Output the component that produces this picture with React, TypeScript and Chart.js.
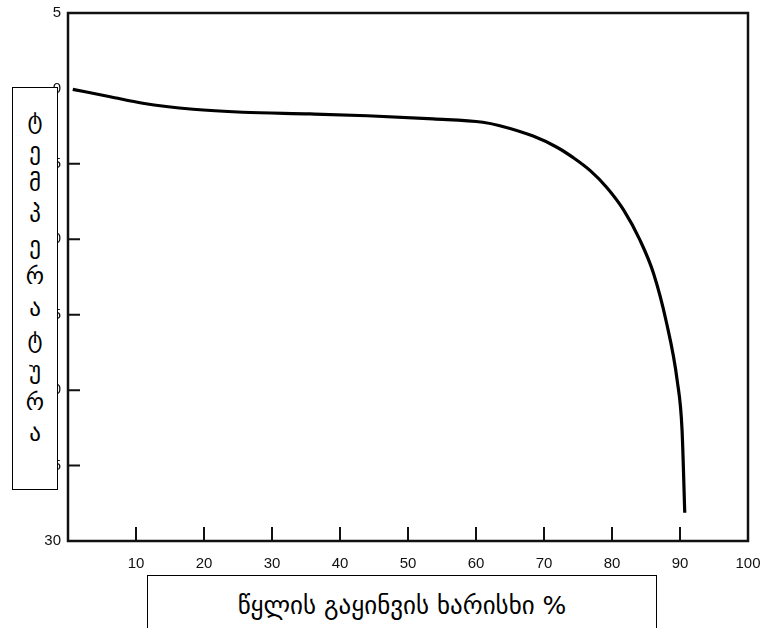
import React, { useEffect, useRef } from "react";
import { Chart, registerables } from "chart.js";

Chart.register(...registerables);

// Water frozen percentage (x) and temperature (y, °C)
const waterFrozenPct = [0.7, 6.2, 11.0, 18.4, 25.7, 35.6, 44.0, 53.7, 61.0, 63.5, 68.4, 71.9, 74.3, 76.8, 79.2, 81.7, 84.1, 86.1, 88.0, 89.6, 90.3, 90.7];
const temperature = [-0.06, -0.55, -0.98, -1.38, -1.58, -1.69, -1.81, -2.02, -2.24, -2.47, -3.16, -3.90, -4.59, -5.45, -6.55, -8.05, -10.04, -12.25, -15.5, -19.4, -22.63, -28.13];

const xTickValues = [10, 20, 30, 40, 50, 60, 70, 80, 90, 100];
const xTickMarks = [10, 20, 30, 40, 50, 60, 70, 80, 90];
const yTickValues = [5, 0, -5, -10, -15, -20, -25, -30];
const yTickMarks = [-5, -10, -15, -20, -25];

const yTitle = "ტემპერატურა";
const xTitle = "წყლის გაყინვის ხარისხი %";

const framePlugin = {
  id: "framePlugin",
  afterDatasetsDraw(chart: any) {
    const { ctx, chartArea, scales } = chart;
    ctx.save();
    ctx.strokeStyle = "#111";
    ctx.lineWidth = 2.5;
    ctx.strokeRect(chartArea.left, chartArea.top, chartArea.right - chartArea.left, chartArea.bottom - chartArea.top);
    ctx.lineWidth = 2;
    ctx.beginPath();
    for (const v of xTickMarks) {
      const px = scales.x.getPixelForValue(v);
      ctx.moveTo(px, chartArea.bottom);
      ctx.lineTo(px, chartArea.bottom - 14);
    }
    for (const v of yTickMarks) {
      const py = scales.y.getPixelForValue(v);
      ctx.moveTo(chartArea.left, py);
      ctx.lineTo(chartArea.left + 12, py);
    }
    ctx.stroke();
    ctx.restore();
  },
};

export default function App() {
  const canvasRef = useRef<HTMLCanvasElement | null>(null);

  useEffect(() => {
    const canvas = canvasRef.current;
    if (!canvas) return;
    const chart = new Chart(canvas, {
      type: "line",
      data: {
        datasets: [
          {
            data: waterFrozenPct.map((x, i) => ({ x, y: temperature[i] })),
            borderColor: "#000",
            borderWidth: 3.2,
            pointRadius: 0,
            cubicInterpolationMode: "monotone",
            fill: false,
          },
        ],
      },
      options: {
        animation: false,
        responsive: false,
        maintainAspectRatio: false,
        layout: { padding: { left: 0, top: 13, right: 17, bottom: 0 } },
        plugins: { legend: { display: false }, tooltip: { enabled: false } },
        scales: {
          x: {
            type: "linear",
            min: 0,
            max: 100,
            afterBuildTicks: (scale: any) => {
              scale.ticks = xTickValues.map((v) => ({ value: v }));
            },
            afterFit: (scale: any) => {
              scale.height = 87;
              scale.paddingLeft = 0;
              scale.paddingRight = 0;
            },
            grid: { display: false, drawTicks: false },
            border: { display: false },
            ticks: {
              padding: 14,
              color: "#111",
              font: { family: "Liberation Sans, Arial, sans-serif", size: 15 },
              maxRotation: 0,
              autoSkip: false,
              callback: (v: any) => String(v),
            },
          },
          y: {
            type: "linear",
            min: -30,
            max: 5,
            afterBuildTicks: (scale: any) => {
              scale.ticks = yTickValues.map((v) => ({ value: v }));
            },
            afterFit: (scale: any) => {
              scale.width = 68;
              scale.paddingTop = 0;
              scale.paddingBottom = 0;
            },
            grid: { display: false, drawTicks: false },
            border: { display: false },
            ticks: {
              padding: 7,
              color: "#111",
              font: { family: "Liberation Sans, Arial, sans-serif", size: 15 },
              autoSkip: false,
              callback: (v: any) => String(Math.abs(Number(v))),
            },
          },
        },
      },
      plugins: [framePlugin],
    });
    return () => chart.destroy();
  }, []);

  return (
    <div
      style={{
        position: "fixed",
        left: 0,
        top: 0,
        width: 765,
        height: 628,
        overflow: "hidden",
        background: "#fff",
      }}
    >
      <canvas ref={canvasRef} width={765} height={628} style={{ display: "block" }} />
      <div
        style={{
          position: "absolute",
          left: 12,
          top: 87,
          width: 46,
          height: 403,
          border: "1px solid #000",
          background: "#fff",
          display: "flex",
          flexDirection: "column",
          alignItems: "center",
          paddingTop: 17,
          boxSizing: "border-box",
          fontFamily: "DejaVu Sans, sans-serif",
          fontSize: 23,
          color: "#000",
        }}
      >
        {Array.from(yTitle).map((ch, i) => (
          <div key={i} style={{ height: 31.3, lineHeight: "31px" }}>
            {ch}
          </div>
        ))}
      </div>
      <div
        style={{
          position: "absolute",
          left: 147,
          top: 575,
          width: 510,
          height: 70,
          border: "1px solid #000",
          background: "#fff",
          boxSizing: "border-box",
          textAlign: "center",
          paddingTop: 15,
          fontFamily: "DejaVu Sans, sans-serif",
          fontSize: 25,
          color: "#000",
        }}
      >
        {xTitle}
      </div>
    </div>
  );
}
